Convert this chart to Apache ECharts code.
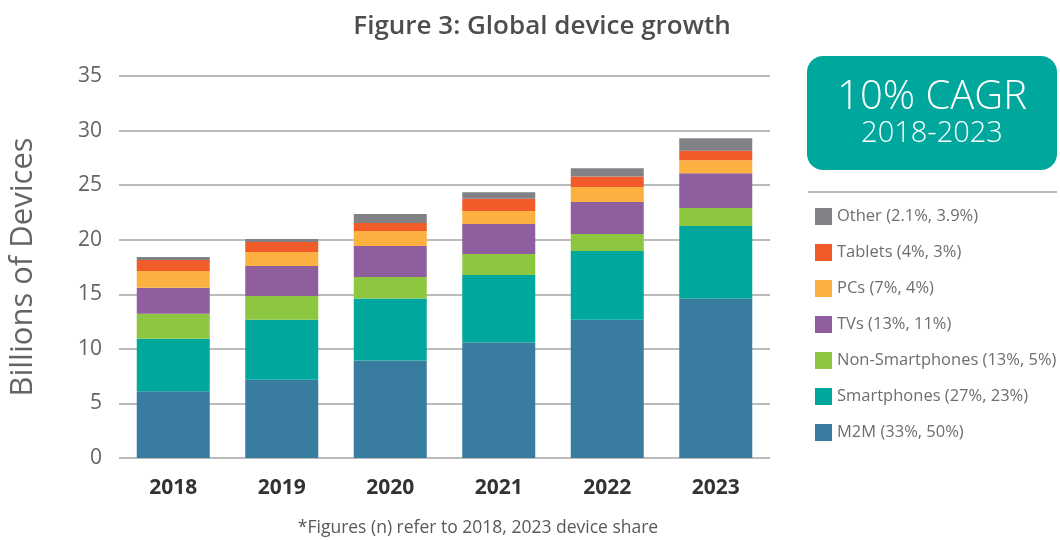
<!DOCTYPE html>
<html>
<head>
<meta charset="utf-8">
<script src="https://cdn.jsdelivr.net/npm/echarts@6/dist/echarts.min.js"></script>
<style>html,body{margin:0;padding:0;background:#fff;}#c{width:1060px;height:540px;}</style>
</head>
<body>
<div id="c"></div>
<script>
var years = ['2018', '2019', '2020', '2021', '2022', '2023'];
var m2m = [6.11, 7.18, 8.94, 10.58, 12.66, 14.61];
var smartphones = [4.81, 5.48, 5.67, 6.19, 6.31, 6.64];
var nonSmartphones = [2.29, 2.19, 1.98, 1.92, 1.55, 1.65];
var tvs = [2.38, 2.75, 2.83, 2.75, 2.93, 3.20];
var pcs = [1.55, 1.28, 1.38, 1.18, 1.37, 1.19];
var tablets = [1.00, 0.91, 0.73, 1.13, 0.98, 0.85];
var other = [0.27, 0.27, 0.82, 0.61, 0.75, 1.16];
var seriesNames = ['M2M (33%, 50%)', 'Smartphones (27%, 23%)', 'Non-Smartphones (13%, 5%)', 'TVs (13%, 11%)', 'PCs (7%, 4%)', 'Tablets (4%, 3%)', 'Other (2.1%, 3.9%)'];
var seriesColors = ['#387ca0', '#00a79d', '#8dc63f', '#8f5e9f', '#fbb040', '#f15a29', '#808285'];
var seriesData = [m2m, smartphones, nonSmartphones, tvs, pcs, tablets, other];
var yTicks = [0, 5, 10, 15, 20, 25, 30, 35];

var font = '"Open Sans", Lato, sans-serif';
var chart = echarts.init(document.getElementById('c'), null, {renderer: 'canvas'});
var series = seriesNames.map(function (n, i) {
  return {
    name: n, type: 'bar', stack: 'total', barWidth: 73,
    itemStyle: {color: seriesColors[i]},
    data: seriesData[i]
  };
});
chart.setOption({
  animation: false,
  backgroundColor: '#fff',
  title: {
    text: 'Figure 3: Global device growth',
    left: 537, top: 9, textAlign: 'center',
    textStyle: {fontFamily: font, fontSize: 26, fontWeight: 600, color: '#4d4d4f'}
  },
  grid: {left: 118, right: 290, top: 76, bottom: 82},
  legend: {
    orient: 'vertical', left: 810, top: 203,
    itemWidth: 17, itemHeight: 17, itemGap: 19, icon: 'rect',
    data: seriesNames.slice().reverse(),
    textStyle: {fontFamily: font, fontSize: 16.5, color: '#6d6e71', padding: [0, 0, 0, 0]}
  },
  xAxis: {
    type: 'category', data: years,
    axisLine: {show: false}, axisTick: {show: false},
    axisLabel: {fontFamily: font, fontSize: 21, fontWeight: 'bold', color: '#333', margin: 20}
  },
  yAxis: {
    type: 'value', min: 0, max: 35, interval: 5,
    name: 'Billions of Devices', nameLocation: 'middle', nameGap: 80,
    nameTextStyle: {fontFamily: font, fontSize: 31, fontWeight: 400, color: '#636466'},
    axisLine: {show: false}, axisTick: {show: false},
    axisLabel: {fontFamily: font, fontSize: 21, fontWeight: 400, color: '#636466', margin: 17,
      formatter: function (v) { return yTicks.indexOf(v) >= 0 ? String(v) : ''; }},
    splitLine: {lineStyle: {color: '#bbbbbb', width: 2}}
  },
  series: series,
  graphic: [
    {type: 'rect', shape: {x: 807, y: 56, width: 250, height: 114, r: 16}, style: {fill: '#00a79d'}},
    {type: 'text', style: {text: '10% CAGR', x: 932, y: 98, align: 'center', verticalAlign: 'middle', fill: '#fff', font: '300 40px ' + font}},
    {type: 'text', style: {text: '2018-2023', x: 932, y: 134, align: 'center', verticalAlign: 'middle', fill: '#fff', font: '300 29px ' + font}},
    {type: 'line', shape: {x1: 808, y1: 192, x2: 1057, y2: 192}, style: {stroke: '#bbbbbb', lineWidth: 2}},
    {type: 'text', style: {text: '*Figures (n) refer to 2018, 2023 device share', x: 478, y: 528, align: 'center', verticalAlign: 'middle', fill: '#58595b', font: '17.5px ' + font}}
  ]
});
</script>
</body>
</html>
